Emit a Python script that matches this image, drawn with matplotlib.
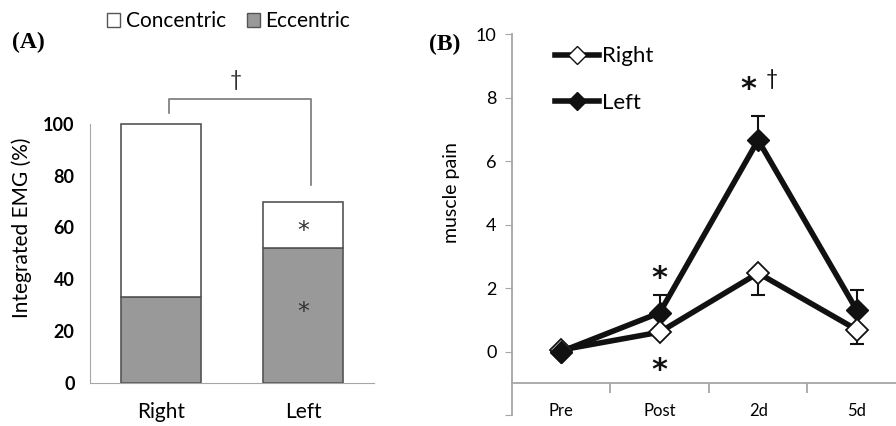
import numpy as np
import matplotlib.pyplot as plt
from matplotlib.lines import Line2D
from matplotlib.patches import Patch

# Panel A: integrated EMG (stacked)
groups = ['Right', 'Left']
eccentric = [33, 52]
total = [100, 70]
concentric = [t - e for t, e in zip(total, eccentric)]

# Panel B: muscle pain
days = ['Pre', 'Post', '2d', '5d']
pain_right = [0.05, 0.61, 2.47, 0.69]
err_right = [0.0, 0.0, 0.70, 0.44]
pain_left = [0.0, 1.22, 6.66, 1.31]
err_left = [0.0, 0.57, 0.75, 0.64]

plt.rcParams['font.family'] = ['Lato', 'DejaVu Sans']
AX_COL = '#a6a6a6'
STAR = dict(ha='center', va='center', family='DejaVu Sans')

fig = plt.figure(figsize=(8.96, 4.26), dpi=100)

# ---------------- Panel A ----------------
ax1 = fig.add_axes([0.1004, 0.101, 0.317, 0.730])
x = np.arange(len(groups))
ax1.bar(x, eccentric, width=0.565, color='#999999', edgecolor='#555555', linewidth=1.2)
ax1.bar(x, concentric, bottom=eccentric, width=0.565, color='white',
        edgecolor='#555555', linewidth=1.2)
ax1.set_xlim(-0.5, 1.5)
ax1.set_ylim(0, 120)
ax1.spines['top'].set_visible(False)
ax1.spines['right'].set_visible(False)
ax1.spines['left'].set_bounds(0, 100)
for s in ['left', 'bottom']:
    ax1.spines[s].set_color(AX_COL)
ax1.set_yticks(range(0, 101, 20))
ax1.tick_params(axis='y', length=0, labelsize=13, pad=11)
for lab in ax1.get_yticklabels():
    lab.set_fontweight('bold')
ax1.set_xticks(x)
ax1.set_xticklabels(groups, fontsize=15)
ax1.tick_params(axis='x', length=0, pad=14)
ax1.set_ylabel('Integrated EMG (%)', fontsize=15, labelpad=8)

# bracket and significance marks
ax1.plot([0.06, 0.06, 1.056, 1.056], [104.2, 109.6, 109.6, 76.4],
         color='#777777', lw=1.2, clip_on=False)
ax1.text(0.53, 117, '\u2020', ha='center', va='center', fontsize=15, color='#333333')
ax1.text(1, 58.5, '*', fontsize=17, color='#333333', **STAR)
ax1.text(1, 27.5, '*', fontsize=17, color='#333333', **STAR)

handles = [Patch(facecolor='white', edgecolor='#555555', label='Concentric'),
           Patch(facecolor='#999999', edgecolor='#555555', label='Eccentric')]
fig.legend(handles=handles, loc='center', bbox_to_anchor=(0.255, 0.95), ncol=2,
           frameon=False, fontsize=15, handlelength=0.65, handleheight=0.65,
           handletextpad=0.25, columnspacing=1.0)
fig.text(0.013, 0.9, '(A)', fontsize=17, fontweight='bold', family='Liberation Serif',
         ha='left', va='center')

# ---------------- Panel B ----------------
ax2 = fig.add_axes([0.5714, 0.0258, 0.4286, 0.8942])
xd = np.arange(len(days))
ax2.errorbar(xd, pain_left, yerr=[np.zeros(4), err_left], fmt='none',
             ecolor='#111111', elinewidth=1.5, capsize=5, capthick=1.5)
ax2.errorbar(xd, pain_right, yerr=[err_right, np.zeros(4)], fmt='none',
             ecolor='#111111', elinewidth=1.5, capsize=5, capthick=1.5)
ax2.plot(xd, pain_left, color='#111111', lw=4, marker='D', markersize=11,
         markerfacecolor='#111111', markeredgecolor='#111111', zorder=3)
ax2.plot(xd, pain_right, color='#111111', lw=4, marker='D', markersize=11,
         markerfacecolor='white', markeredgecolor='#111111', markeredgewidth=1.3,
         zorder=4)
# at Pre the filled (Left) marker sits on top
ax2.plot(xd[:1], pain_left[:1], linestyle='none', marker='D', markersize=11,
         markerfacecolor='#111111', markeredgecolor='#111111', zorder=5)
ax2.set_xlim(-0.5, 3.4)
ax2.set_ylim(-2, 10)
ax2.spines['top'].set_visible(False)
ax2.spines['right'].set_visible(False)
ax2.spines['bottom'].set_position(('data', -1))
for s in ['left', 'bottom']:
    ax2.spines[s].set_color(AX_COL)
    ax2.spines[s].set_linewidth(1.3)
ax2.set_yticks(range(-2, 11, 2))
ax2.set_yticklabels([''] + [str(v) for v in range(0, 11, 2)])
ax2.tick_params(axis='y', length=5, color=AX_COL, labelsize=13, pad=6)
ax2.set_xticks(xd)
ax2.set_xticklabels(days, fontsize=12)
ax2.tick_params(axis='x', which='major', length=0, pad=14)
ax2.set_xticks([0.5, 1.5, 2.5], minor=True)
ax2.tick_params(axis='x', which='minor', length=7, color=AX_COL, width=1.3)
ax2.set_ylabel('muscle pain', fontsize=14)
ax2.yaxis.set_label_coords(-0.135, 7 / 12)

ax2.text(1, 2.3, '*', fontsize=22, fontweight='bold', color='#111111', **STAR)
ax2.text(1, -0.6, '*', fontsize=22, fontweight='bold', color='#111111', **STAR)
ax2.text(1.9, 8.25, '*', fontsize=22, fontweight='bold', color='#111111', **STAR)
ax2.text(2.14, 8.6, '\u2020', ha='center', va='center', fontsize=15, color='#111111')

leg_handles = [Line2D([], [], color='#111111', lw=4, marker='D', markersize=9,
                      markerfacecolor='white', markeredgecolor='#111111'),
               Line2D([], [], color='#111111', lw=4, marker='D', markersize=9,
                      markerfacecolor='#111111')]
ax2.legend(leg_handles, ['Right', 'Left'], loc='upper left',
           bbox_to_anchor=(0.06, 1.02), frameon=False, fontsize=16,
           handlelength=2.0, handletextpad=0.1, labelspacing=1.2)
fig.text(0.479, 0.895, '(B)', fontsize=17, fontweight='bold', family='Liberation Serif',
         ha='left', va='center')

fig.savefig('out.png', dpi=100)
